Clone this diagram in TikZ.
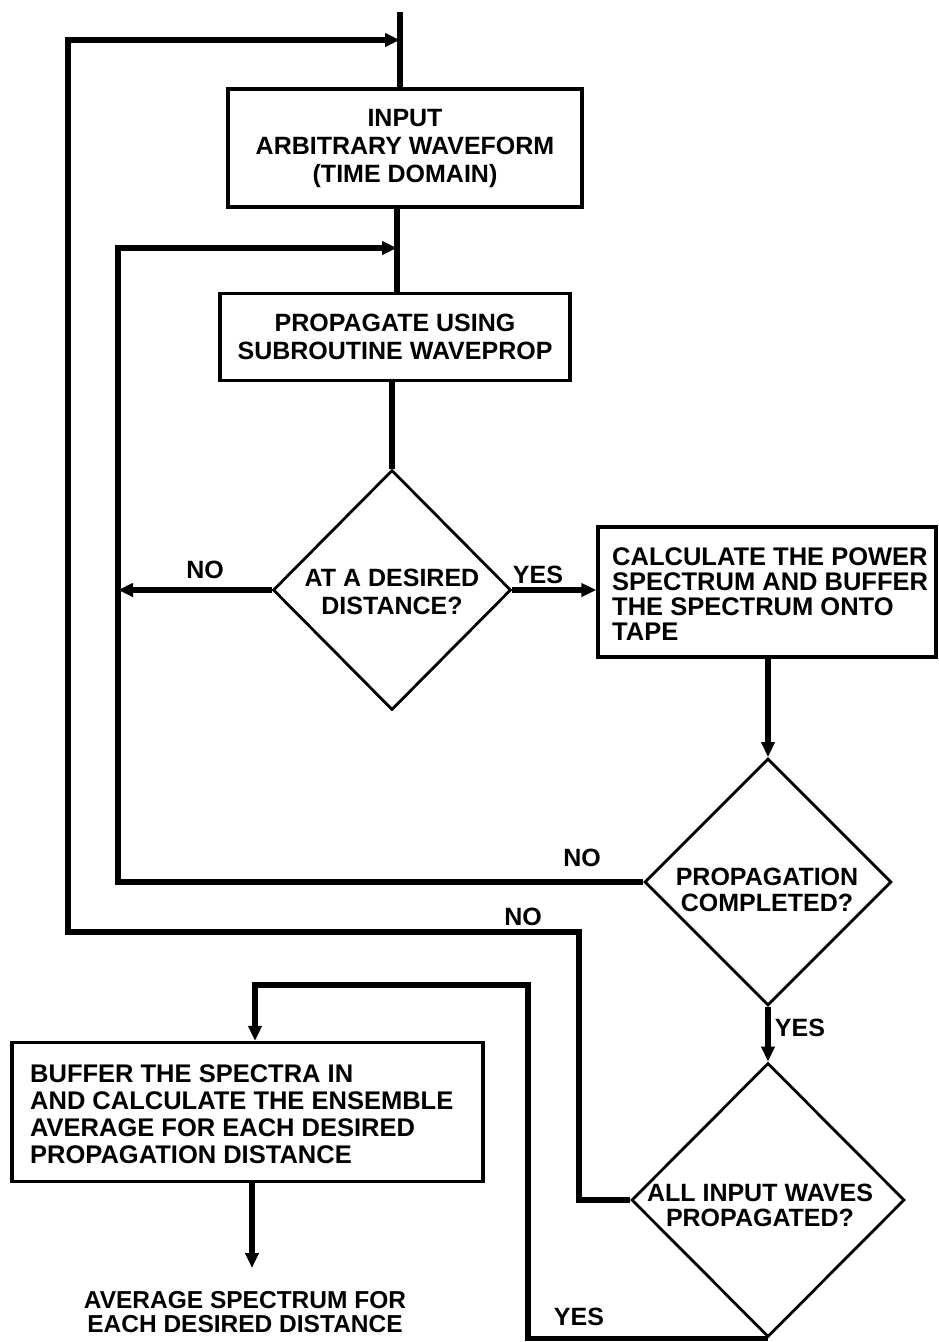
\documentclass[tikz,border=0pt]{standalone}
\usepackage{fontspec}
\setmainfont{Liberation Sans}
\usetikzlibrary{shapes.geometric,arrows.meta}
\begin{document}
\begin{tikzpicture}[x=1pt,y=-1pt,
  conn/.style={line width=5.2pt},
  arr/.style={-{Triangle[length=15pt,width=13pt]}},
  box/.style={draw,line width=3.2pt,inner sep=0pt},
  dia/.style={draw,diamond,line width=2.8pt,inner sep=0pt},
  txt/.style={font=\fontsize{25}{28}\selectfont\bfseries,align=center,inner sep=0pt},
  lbl/.style={font=\fontsize{25}{28}\selectfont\bfseries,inner sep=0pt}]
\useasboundingbox (0,0) rectangle (939,1342);

% boxes and decisions
\node[box,txt,minimum width=354pt,minimum height=118pt] (b1) at (405,148)
  {INPUT\\ARBITRARY WAVEFORM\\(TIME DOMAIN)};
\node[box,txt,minimum width=350pt,minimum height=87pt] (b2) at (395,337)
  {PROPAGATE USING\\SUBROUTINE WAVEPROP};
\node[dia,minimum width=238pt,minimum height=240pt] (d1) at (392,590) {};
\node[txt] (d1t) at (392,592) {AT A DESIRED\\DISTANCE?};
\node[box,minimum width=338pt,minimum height=130pt] (b3) at (767,592) {};
\node[txt,align=left,anchor=west,font=\fontsize{25.5}{25}\selectfont\bfseries] (b3t) at (612,594)
  {CALCULATE THE POWER\\SPECTRUM AND BUFFER\\THE SPECTRUM ONTO\\TAPE};
\node[dia,minimum width=247pt,minimum height=247pt] (d2) at (768,882) {};
\node[txt,font=\fontsize{25}{26}\selectfont\bfseries] (d2t) at (767,890) {PROPAGATION\\COMPLETED?};
\node[dia,minimum width=273pt,minimum height=274pt] (d3) at (768,1200) {};
\node[txt,font=\fontsize{25}{25}\selectfont\bfseries] (d3t) at (760,1205) {ALL INPUT WAVES\\PROPAGATED?};
\node[box,minimum width=471pt,minimum height=139pt] (b4) at (247.5,1112) {};
\node[txt,align=left,anchor=west,font=\fontsize{25.5}{27}\selectfont\bfseries] (b4t) at (30,1114)
  {BUFFER THE SPECTRA IN\\AND CALCULATE THE ENSEMBLE\\AVERAGE FOR EACH DESIRED\\PROPAGATION DISTANCE};
\node[txt,font=\fontsize{24.5}{24}\selectfont\bfseries] (fin) at (245,1312)
  {AVERAGE SPECTRUM FOR\\EACH DESIRED DISTANCE};

% labels
\node[lbl] (no1) at (205,570) {NO};
\node[lbl] (yes1) at (538,575) {YES};
\node[lbl] (no2) at (582,858) {NO};
\node[lbl] (no3) at (523,917) {NO};
\node[lbl] (yes2) at (800,1028) {YES};
\node[lbl] (yes3) at (579,1317) {YES};

% helper coordinates
\coordinate (top) at (400,12);
\coordinate (oJ) at (400,40);
\coordinate (oB) at (68,40);
\coordinate (oA) at (579,932);
\coordinate (iJ) at (397,248);
\coordinate (iB) at (118,248);
\coordinate (yA) at (528,985);
\coordinate (yB) at (255,985);
\coordinate (fTop) at (252,1268);

% connectors
\draw[conn] (top) -- (top |- b1.north);
\draw[conn] (iJ |- b1.south) -- (iJ |- b2.north);
\draw[conn] (d1.north |- b2.south) -- (d1.north);
\draw[conn,arr] (d1.east) -- (d1.east -| b3.west);
\draw[conn,arr] (d1.west) -- (d1.west -| iB);
\draw[conn,arr] (d2.west) -| (iB) -- (iJ);
\draw[conn,arr] (d3.west) -| (oA) -| (oB) -- (oJ);
\draw[conn,arr] (d2.north |- b3.south) -- (d2.north);
\draw[conn,arr] (d2.south) -- (d3.north);
\draw[conn,arr] (d3.south) -| (yA) -- (yB) -- (yB |- b4.north);
\draw[conn,arr] (fTop |- b4.south) -- (fTop);
\end{tikzpicture}
\end{document}
